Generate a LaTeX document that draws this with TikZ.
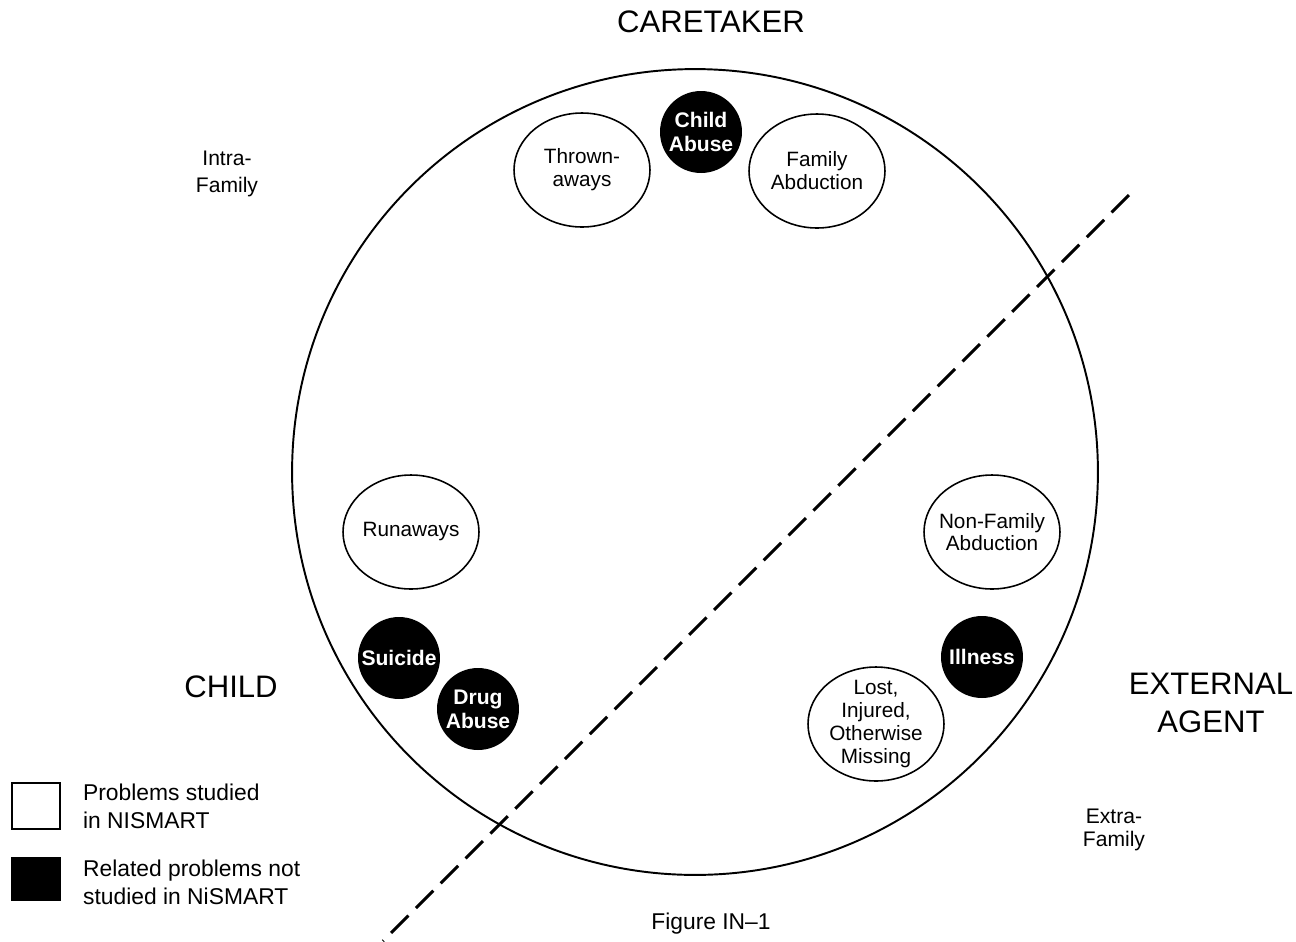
\documentclass[tikz,border=0pt]{standalone}
\usepackage{fontspec}
\setmainfont{Liberation Sans}
\usepackage{tikz}
\usetikzlibrary{positioning}
\usetikzlibrary{shapes,arrows}
\tikzstyle{studied} = [ellipse, draw, line width=0.9pt, minimum width=2.72cm,
    minimum height=2.28cm, inner sep=-4mm, align=center, font=\fontsize{11.8}{13}\selectfont]
\tikzstyle{related} = [circle, fill=black, text=white, minimum size=1.64cm,
    inner sep=-4mm, align=center, font=\bfseries\fontsize{12}{13.5}\selectfont]
\tikzstyle{agent} = [align=center, inner sep=0pt, font=\fontsize{17.7}{22}\selectfont]
\tikzstyle{side} = [align=center, inner sep=0pt, font=\fontsize{12}{15}\selectfont]
\tikzstyle{key} = [rectangle, draw, line width=0.9pt, minimum width=0.96cm, minimum height=0.92cm]
\tikzstyle{keytext} = [align=left, inner sep=0pt, font=\fontsize{13}{16}\selectfont]
\tikzstyle{divider} = [draw, line width=1.7pt, dash pattern=on 14pt off 6pt]

\begin{document}
\begin{tikzpicture}[x=0.02cm, y=-0.02cm]
        \useasboundingbox (0,0) rectangle (1296,941);
            % Circle and agents
        \node [circle, draw, line width=1.1pt, minimum size=16.12cm] (world) at (695,472) {};
        \node [agent] (caretaker) at (711,22) {CARETAKER};
        \node [agent] (child) at (231,687) {CHILD};
        \node [agent] (external) at (1211,703) {EXTERNAL\\AGENT};
        \node [side] (intra) at (227,174) {Intra-\\Family};
        \node [side, font=\fontsize{12}{13.5}\selectfont] (extra) at (1114,830) {Extra-\\Family};
            % Problems
        \node [studied] (thrown) at (582,170) {Thrown-\\aways};
        \node [related] (abuse) at (701,132) {Child\\Abuse};
        \node [studied] (family) at (817,171) {Family\\Abduction};
        \node [studied] (runaways) at (411,532) {Runaways};
        \node [related] (suicide) at (399,658) {Suicide};
        \node [related] (drug) at (478,709) {Drug\\Abuse};
        \node [studied] (nonfamily) at (992,532) {Non-Family\\Abduction};
        \node [related] (illness) at (982,657) {Illness};
        \node [studied] (lost) at (876,724) {Lost,\\Injured,\\Otherwise\\Missing};
            % Divider
        \coordinate (divtop) at (1129,195);
        \coordinate (divbot) at (383,941);
        \path [divider] (divtop) -- (divbot);
            % Key
        \node [key] (studiedkey) at (36,806) {};
        \node [key, fill=black, minimum height=0.86cm] (relatedkey) at (36,879) {};
        \node [keytext, right=0.44cm of studiedkey] (studiedtext) {Problems studied\\in NISMART};
        \node [keytext, right=0.44cm of relatedkey, yshift=-0.06cm] (relatedtext) {Related problems not\\studied in NiSMART};
        \node [side, font=\fontsize{13}{15}\selectfont] (caption) at (711,924) {Figure IN--1};
    \end{tikzpicture}
\end{document}
